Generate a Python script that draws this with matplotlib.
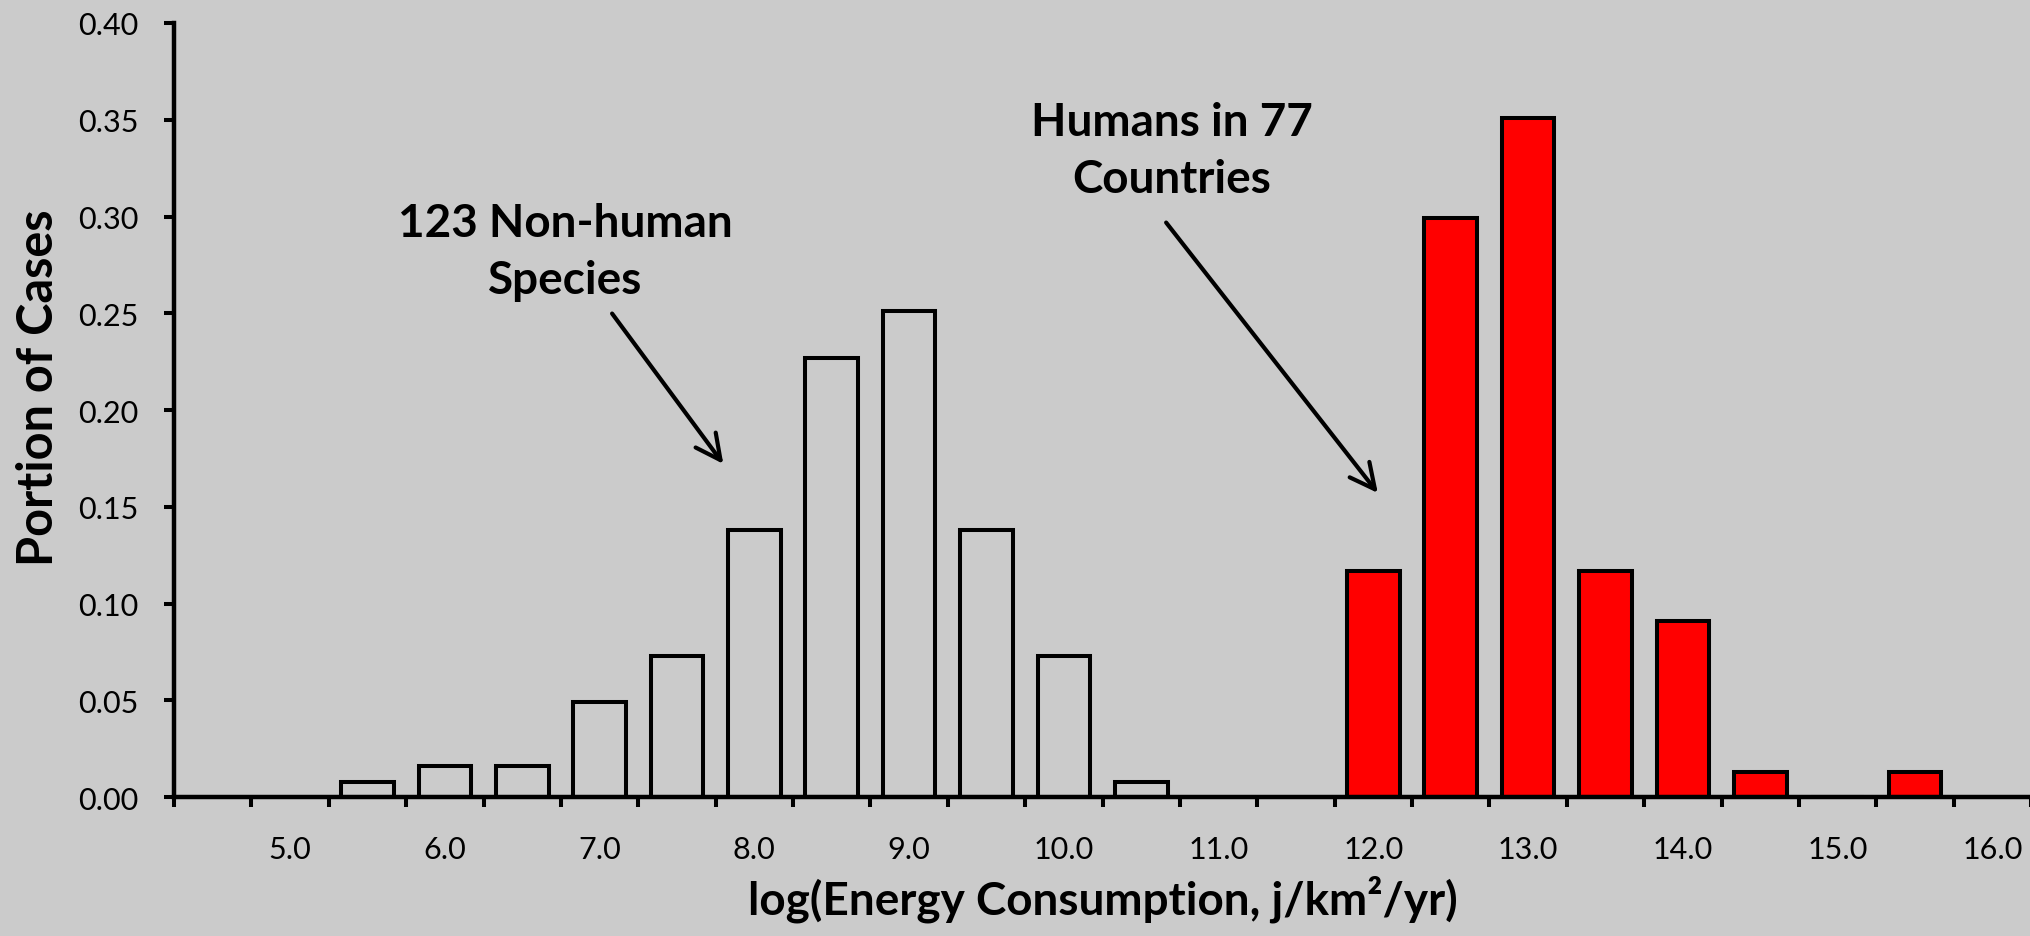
import numpy as np
import matplotlib
matplotlib.use('Agg')
import matplotlib.pyplot as plt

# bin centres, log(energy consumption, j/km2/yr)
nonhuman_bins = [5.5, 6.0, 6.5, 7.0, 7.5, 8.0, 8.5, 9.0, 9.5, 10.0, 10.5]
nonhuman_share = [0.008, 0.016, 0.016, 0.049, 0.073, 0.138, 0.227, 0.251, 0.138, 0.073, 0.008]

human_bins = [12.0, 12.5, 13.0, 13.5, 14.0, 14.5, 15.0, 15.5]
human_share = [0.117, 0.299, 0.351, 0.117, 0.091, 0.013, 0.0, 0.013]

tick_labels = ['5.0', '6.0', '7.0', '8.0', '9.0', '10.0', '11.0', '12.0', '13.0', '14.0', '15.0', '16.0']
y_ticks = [0.0, 0.05, 0.10, 0.15, 0.20, 0.25, 0.30, 0.35, 0.40]

plt.rcParams['font.family'] = ['Lato', 'DejaVu Sans']
bg = '#cbcbcb'

fig = plt.figure(figsize=(20.31, 9.37), dpi=100, facecolor=bg)
ax = fig.add_axes([0.0857, 0.1483, 0.9143, 0.8261])
ax.set_facecolor('none')

ax.bar(nonhuman_bins, nonhuman_share, width=0.34, facecolor='none', edgecolor='black', linewidth=2.9)
ax.bar(human_bins, human_share, width=0.34, facecolor='#ff0000', edgecolor='black', linewidth=2.9)

ax.set_xlim(4.25, 16.25)
ax.set_ylim(0, 0.40)

# category-style axis: tick marks between bins, labels on the whole numbers
ax.set_xticks(np.arange(4.25, 16.3, 0.5))
ax.set_xticklabels([])
ax.set_xticks([float(t) for t in tick_labels], minor=True)
ax.set_xticklabels(tick_labels, minor=True)
ax.tick_params(axis='x', which='major', direction='out', length=7.5, width=2.9)
ax.tick_params(axis='x', which='minor', length=0, pad=27, labelsize=22)

ax.set_yticks(y_ticks)
ax.set_yticklabels(['%.2f' % v for v in y_ticks])
ax.tick_params(axis='y', direction='out', length=7.5, width=2.9, pad=18, labelsize=22)

for side in ['top', 'right']:
    ax.spines[side].set_visible(False)
for side in ['left', 'bottom']:
    ax.spines[side].set_linewidth(3.2)

ax.set_xlabel('log(Energy Consumption, j/km²/yr)', fontsize=33, fontweight='bold')
ax.xaxis.set_label_coords(0.5, -0.1)
ax.xaxis.label.set_verticalalignment('top')
ax.set_ylabel('Portion of Cases', fontsize=35, fontweight='bold')
ax.yaxis.set_label_coords(-0.061, 0.53)

ax.annotate('', xy=(7.81, 0.171), xytext=(7.07, 0.251),
            arrowprops=dict(arrowstyle='->,head_length=0.9,head_width=0.45', color='black', lw=3, mutation_scale=20))
ax.text(6.78, 0.282, '123 Non-human\nSpecies', ha='center', va='center', fontsize=33,
        fontweight='bold', linespacing=1.45)

ax.annotate('', xy=(12.04, 0.156), xytext=(10.65, 0.298),
            arrowprops=dict(arrowstyle='->,head_length=0.9,head_width=0.45', color='black', lw=3, mutation_scale=20))
ax.text(10.70, 0.334, 'Humans in 77\nCountries', ha='center', va='center', fontsize=33,
        fontweight='bold', linespacing=1.45)

fig.savefig('out.png', dpi=100, facecolor=bg)
